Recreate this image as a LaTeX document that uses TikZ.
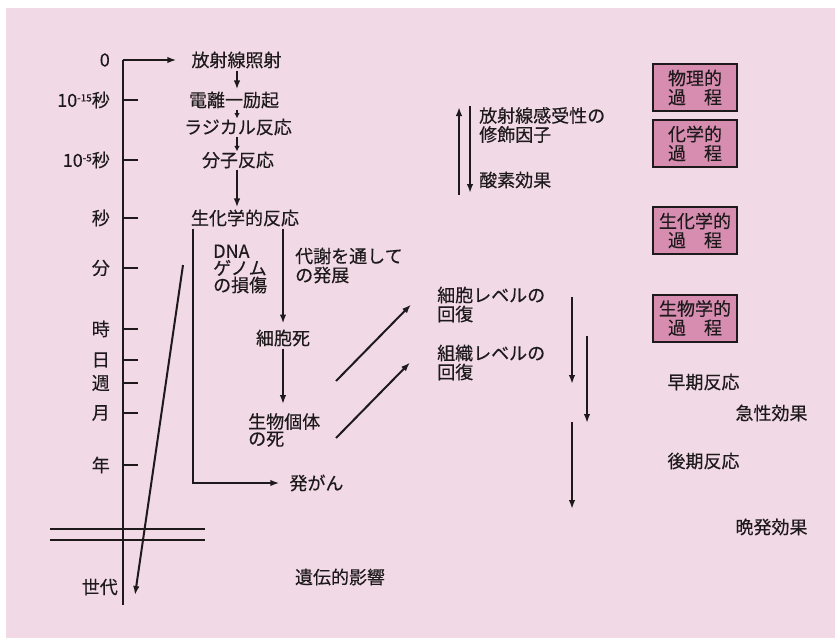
\documentclass[tikz,border=0pt]{standalone}
\usepackage{fontspec}
\setmainfont{Noto Sans CJK JP}[FakeBold=0.35]
\usetikzlibrary{arrows.meta}
\definecolor{bg}{HTML}{F1D9E5}
\definecolor{boxc}{HTML}{D68DB0}
\definecolor{ink}{HTML}{1E1A1C}
\begin{document}
\begin{tikzpicture}[x=1pt,y=-1pt,
  txt/.style={font=\fontsize{18}{19}\selectfont, text=ink, inner sep=0pt},
  tight/.style={font=\fontsize{18}{17}\selectfont, text=ink, inner sep=0pt, align=left},
  two/.style={font=\fontsize{18}{19}\selectfont, text=ink, inner sep=0pt, align=left},
  ln/.style={draw=ink, line width=2pt},
  arr/.style={ln, -{Latex[length=9pt,width=6.5pt]}},
  sarr/.style={ln, -{Latex[length=5.5pt,width=5.5pt]}},
  procbox/.style={draw=ink, line width=2pt, fill=boxc, text=ink, minimum width=84pt,
    minimum height=47pt, align=center, font=\fontsize{18}{19}\selectfont, inner sep=0pt}]
\useasboundingbox (0,0) rectangle (835,638);
\fill[white] (0,0) rectangle (835,638);
\fill[bg] (6,8) rectangle (835,638);

% time axis
\coordinate (axtop) at (123,60);
\coordinate (axbot) at (123,605);
\draw[ln] (axtop) -- (axbot);
\node[txt, anchor=east] (t0) at (110,60) {0};
\foreach \yy/\lab/\nm in {100/{10\raisebox{0.55ex}{\fontsize{10}{10}\selectfont -15}秒}/t1,
    160/{10\raisebox{0.55ex}{\fontsize{10}{10}\selectfont -5}秒}/t2,
    218/秒/t3, 268/分/t4, 329/時/t5, 360/日/t6, 383/週/t7, 413/月/t8, 465/年/t9}{
  \node[txt, anchor=east] (\nm) at (110,\yy) {\lab};
  \draw[ln] (123,\yy) -- (138,\yy);
}
\node[txt, anchor=east] (tgen) at (118,587) {世代};
\draw[ln] (50,529) -- (205,529);
\draw[ln] (50,540) -- (205,540);

% main flow
\coordinate (col) at (237,0);
\node[txt] (n0) at (236.5,60) {放射線照射};
\node[txt] (n1) at (234,100) {電離一励起};
\node[txt] (n2) at (238,127) {ラジカル反応};
\node[txt] (n3) at (238,160) {分子反応};
\node[txt] (n4) at (245,218) {生化学的反応};
\draw[arr, shorten >=15pt] (axtop) -- (n0.west);
\draw[arr, shorten <=2pt, shorten >=2pt] (n0.south -| col) -- (n1.north -| col);
\draw[sarr, shorten <=1pt] (n1.south -| col) -- (n2.north -| col);
\draw[sarr, shorten <=1pt] (n2.south -| col) -- (n3.north -| col);
\draw[arr, shorten <=1pt, shorten >=2pt] (n3.south -| col) -- (n4.north -| col);

\node[tight, anchor=west] (dna) at (213,269) {DNA\\ゲノム\\の損傷};
\node[two, anchor=west] (meta) at (295,265.5) {代謝を通して\\の発展};
\node[txt] (cd) at (283,338) {細胞死};
\node[tight, anchor=west] (ind) at (248,430) {生物個体\\の死};
\node[txt] (cancer) at (316.5,483) {発がん};
\coordinate (lx) at (193,0);
\coordinate (rx) at (283,0);
\draw[arr, shorten <=2pt, shorten >=10pt] (n4.south -| lx) |- (cancer.west);
\draw[arr, shorten <=2pt, shorten >=6pt] (n4.south -| rx) -- (cd.north -| rx);
\draw[arr, shorten <=2pt, shorten >=9pt] (cd.south -| rx) -- (ind.north -| rx);

% genetic arrow
\coordinate (gs) at (183,265);
\coordinate (ge) at (135,595);
\draw[arr] (gs) -- (ge);
\node[txt] (gen) at (340,577) {遺伝的影響};

% recovery
\node[two, anchor=west] (rc) at (437,304.5) {細胞レベルの\\回復};
\node[two, anchor=west] (rt) at (437,362.5) {組織レベルの\\回復};
\coordinate (d1s) at (336,381);
\coordinate (d2s) at (336,438);
\draw[arr] (d1s) -- ([xshift=-26pt]rc.west);
\draw[arr] (d2s) -- ([xshift=-27pt]rt.west);

% right vertical arrows
\coordinate (v1a) at (572,297); \coordinate (v1b) at (572,384);
\coordinate (v2a) at (587,336); \coordinate (v2b) at (587,423);
\coordinate (v3a) at (572,422); \coordinate (v3b) at (572,509);
\draw[arr] (v1a) -- (v1b);
\draw[arr] (v2a) -- (v2b);
\draw[arr] (v3a) -- (v3b);

% modifier arrows
\coordinate (ua) at (459,195); \coordinate (ub) at (459,107);
\coordinate (da) at (470,106); \coordinate (db) at (470,193);
\draw[arr] (ua) -- (ub);
\draw[arr] (da) -- (db);
\node[two, anchor=west] (mod) at (479,125) {放射線感受性の\\修飾因子};
\node[txt, anchor=west] (oxy) at (479,180) {酸素効果};

% process boxes
\node[procbox] (b1) at (695,87.5) {物理的\\過\hspace{1em}程};
\node[procbox] (b2) at (695,143.5) {化学的\\過\hspace{1em}程};
\node[procbox] (b3) at (695,230.5) {生化学的\\過\hspace{1em}程};
\node[procbox] (b4) at (695,318) {生物学的\\過\hspace{1em}程};

% effects
\node[txt] (e1) at (703.5,382) {早期反応};
\node[txt] (e2) at (771.5,413) {急性効果};
\node[txt] (e3) at (703.5,461) {後期反応};
\node[txt] (e4) at (771.5,527) {晩発効果};
\end{tikzpicture}
\end{document}
